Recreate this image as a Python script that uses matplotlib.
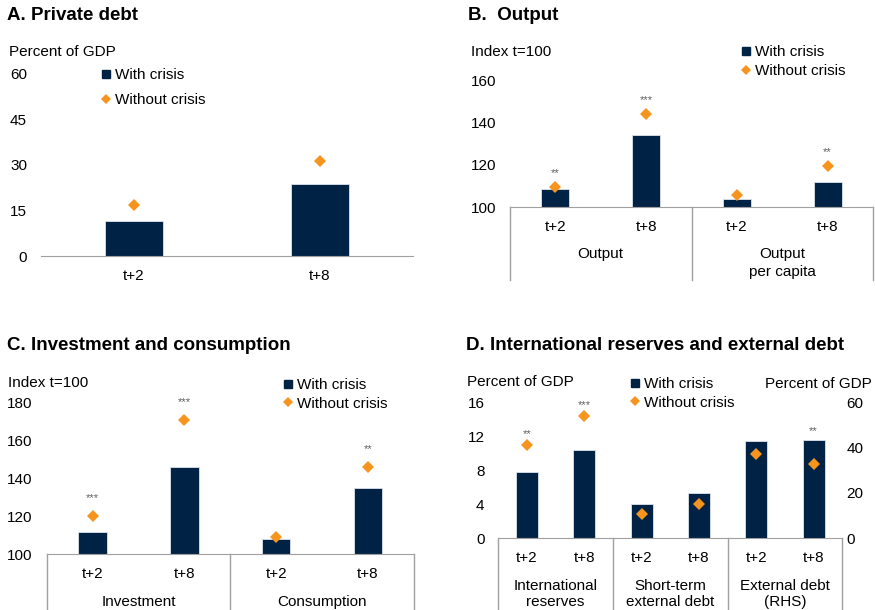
import matplotlib
matplotlib.use('Agg')
import matplotlib.pyplot as plt
from matplotlib.lines import Line2D

plt.rcParams['font.family'] = ['Liberation Sans', 'DejaVu Sans']

NAVY = '#002345'
ORANGE = '#F7941D'
GREY = '#A0A0A0'

# A. Private debt
a_cats = ['t+2', 't+8']
a_with = [11.7, 23.8]
a_without = [16.7, 31.3]

# B. Output
b_cats = ['t+2', 't+8', 't+2', 't+8']
b_groups = ['Output', 'Output\nper capita']
b_with = [108.6, 134.0, 103.8, 112.0]
b_without = [109.4, 143.8, 105.6, 119.5]
b_stars = ['**', '***', '', '**']

# C. Investment and consumption
c_cats = ['t+2', 't+8', 't+2', 't+8']
c_groups = ['Investment', 'Consumption']
c_with = [111.7, 145.8, 108.1, 134.7]
c_without = [120.0, 170.7, 109.1, 145.8]
c_stars = ['***', '***', '', '**']

# D. International reserves and external debt (last group on RHS)
d_cats = ['t+2', 't+8', 't+2', 't+8', 't+2', 't+8']
d_groups = ['International\nreserves', 'Short-term\nexternal debt', 'External debt\n(RHS)']
d_with_lhs = [7.8, 10.4, 4.0, 5.3]
d_without_lhs = [11.0, 14.4, 2.9, 4.0]
d_with_rhs = [42.8, 43.4]
d_without_rhs = [37.3, 32.9]
d_stars = ['**', '***', '', '', '', '**']

fig = plt.figure(figsize=(8.75, 6.1), dpi=100)


def fx(px):
    return px / 875


def fy(py):
    return 1 - py / 610


def make_ax(l, r, b, t):
    ax = fig.add_axes([fx(l), fy(b), fx(r) - fx(l), fy(t) - fy(b)])
    for s in ['left', 'right', 'top']:
        ax.spines[s].set_visible(False)
    ax.spines['bottom'].set_color(GREY)
    ax.tick_params(axis='y', length=0, pad=10, labelsize=11)
    ax.tick_params(axis='x', length=0, pad=9, labelsize=11)
    return ax


def draw(ax, xs, with_vals, without_vals, width, base=0):
    ax.bar(xs, [v - base for v in with_vals], bottom=base, width=width,
           color=NAVY, edgecolor='#dde3ea', linewidth=0.6, zorder=2)
    ax.plot(xs, without_vals, 'D', color=ORANGE, markersize=6.5,
            markeredgewidth=0, zorder=3)


def stars(ax, xs, marks, with_vals, without_vals, off):
    for x, m, w, wo in zip(xs, marks, with_vals, without_vals):
        if m:
            ax.annotate(m, (x, max(w, wo)), xytext=(0, off),
                        textcoords='offset pixels', ha='center', va='baseline',
                        fontsize=8, color='#606060')


def separators(ax, n, per, bottom):
    for k in range(n + 1):
        ax.plot([k * per - 0.5] * 2, [0, bottom], color=GREY, lw=1,
                transform=ax.get_xaxis_transform(), clip_on=False)


def group_labels(ax, groups, per, off, ls):
    for k, g in enumerate(groups):
        ax.text(k * per + (per - 1) / 2, off, g, ha='center', va='top',
                fontsize=11, transform=ax.get_xaxis_transform(),
                linespacing=ls)


def legend(ax, x, y, spacing):
    handles = [Line2D([], [], marker='s', color=NAVY, ls='none', markersize=6),
               Line2D([], [], marker='D', color=ORANGE, ls='none', markersize=5,
                      markeredgewidth=0)]
    ax.legend(handles, ['With crisis', 'Without crisis'], loc='upper left',
              bbox_to_anchor=(fx(x), fy(y)), bbox_transform=fig.transFigure,
              frameon=False, fontsize=11, handlelength=0.6, handletextpad=0.3,
              borderpad=0, borderaxespad=0, labelspacing=spacing)


# ---- Panel A
axA = make_ax(41, 413, 256.3, 73.3)
xa = list(range(len(a_cats)))
draw(axA, xa, a_with, a_without, 0.31)
axA.set_xlim(-0.5, 1.5)
axA.set_ylim(0, 60)
axA.set_yticks([0, 15, 30, 45, 60])
axA.set_xticks(xa, a_cats)
legend(axA, 101, 68, 0.75)
fig.text(fx(7), fy(15), 'A. Private debt', fontsize=13.5, fontweight='bold', va='center')
fig.text(fx(9), fy(52), 'Percent of GDP', fontsize=11, va='center')

# ---- Panel B
axB = make_ax(510, 873, 207.3, 80)
xb = list(range(len(b_cats)))
draw(axB, xb, b_with, b_without, 0.31, base=100)
axB.set_xlim(-0.5, 3.5)
axB.set_ylim(100, 160)
axB.set_yticks([100, 120, 140, 160])
axB.set_xticks(xb, b_cats)
stars(axB, xb, b_stars, b_with, b_without, 11)
separators(axB, 2, 2, -0.571)
group_labels(axB, b_groups, 2, -0.31, 1.35)
legend(axB, 741, 45, 0.35)
fig.text(fx(468), fy(15), 'B.  Output', fontsize=13.5, fontweight='bold', va='center')
fig.text(fx(471), fy(52), 'Index t=100', fontsize=11, va='center')

# ---- Panel C
axC = make_ax(46.7, 414, 554.3, 402.3)
xc = list(range(len(c_cats)))
draw(axC, xc, c_with, c_without, 0.31, base=100)
axC.set_xlim(-0.5, 3.5)
axC.set_ylim(100, 180)
axC.set_yticks([100, 120, 140, 160, 180])
axC.set_xticks(xc, c_cats)
stars(axC, xc, c_stars, c_with, c_without, 15)
separators(axC, 2, 2, -0.37)
group_labels(axC, c_groups, 2, -0.265, 1.2)
legend(axC, 283, 378, 0.3)
fig.text(fx(7), fy(345), 'C. Investment and consumption', fontsize=13.5, fontweight='bold', va='center')
fig.text(fx(8), fy(383), 'Index t=100', fontsize=11, va='center')

# ---- Panel D
axD = make_ax(498.3, 842.3, 538.3, 402.3)
axD2 = axD.twinx()
for s in ['left', 'right', 'top', 'bottom']:
    axD2.spines[s].set_visible(False)
axD2.tick_params(axis='y', length=0, pad=3, labelsize=11)
xd = list(range(len(d_cats)))
draw(axD, xd[:4], d_with_lhs, d_without_lhs, 0.38)
draw(axD2, xd[4:], d_with_rhs, d_without_rhs, 0.38)
axD.set_xlim(-0.5, 5.5)
axD.set_ylim(0, 16)
axD.set_yticks([0, 4, 8, 12, 16])
axD2.set_ylim(0, 60)
axD2.set_yticks([0, 20, 40, 60])
axD.set_xticks(xd, d_cats)
stars(axD, xd[:4], d_stars[:4], d_with_lhs, d_without_lhs, 8)
stars(axD2, xd[4:], d_stars[4:], d_with_rhs, d_without_rhs, 6)
separators(axD, 3, 2, -0.53)
group_labels(axD, d_groups, 2, -0.30, 1.2)
legend(axD, 630, 377, 0.3)
fig.text(fx(466), fy(345.7), 'D. International reserves and external debt', fontsize=13.5, fontweight='bold', va='center')
fig.text(fx(467), fy(382), 'Percent of GDP', fontsize=11, va='center')
fig.text(fx(765), fy(384), 'Percent of GDP', fontsize=11, va='center')

fig.savefig('out.png', dpi=100)
